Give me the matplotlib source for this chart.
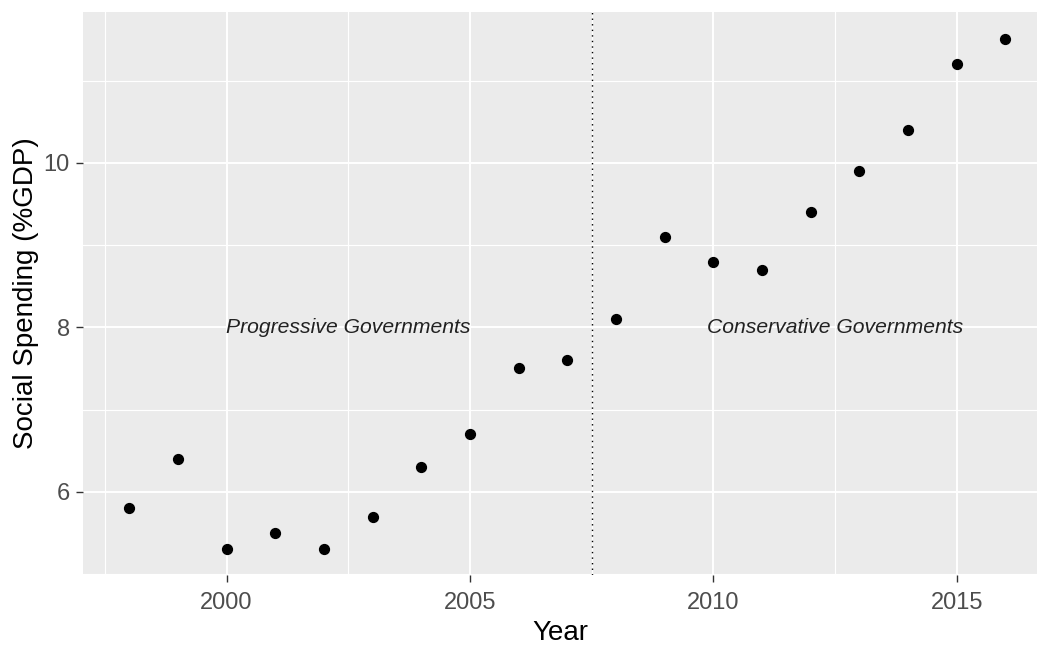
import matplotlib.pyplot as plt

plt.rcParams['font.family'] = ['Liberation Sans', 'DejaVu Sans']

# Social spending data
years = [1998, 1999, 2000, 2001, 2002, 2003, 2004, 2005, 2006, 2007,
         2008, 2009, 2010, 2011, 2012, 2013, 2014, 2015, 2016]
spending = [5.8, 6.4, 5.3, 5.5, 5.3, 5.7, 6.3, 6.7, 7.5, 7.6,
            8.1, 9.1, 8.8, 8.7, 9.4, 9.9, 10.4, 11.2, 11.5]

x_ticks = [2000, 2005, 2010, 2015]
x_minor = [1997.5, 2002.5, 2007.5, 2012.5]
y_ticks = [6, 8, 10]
y_minor = [5, 7, 9, 11]

break_year = 2007.5
labels = ['Progressive Governments', 'Conservative Governments']
label_x = [2002.5, 2012.5]
label_y = 8

fig = plt.figure(figsize=(10.37, 6.46), dpi=100)
ax = fig.add_axes([0.080, 0.110, 0.920, 0.871])
ax.set_facecolor('#EBEBEB')

# ggplot-like grid
for v in x_minor:
    ax.axvline(v, color='white', lw=0.8, zorder=0)
for v in y_minor:
    ax.axhline(v, color='white', lw=0.8, zorder=0)
for v in x_ticks:
    ax.axvline(v, color='white', lw=1.4, zorder=0)
for v in y_ticks:
    ax.axhline(v, color='white', lw=1.4, zorder=0)

ax.scatter(years, spending, s=50, color='black', zorder=3)
ax.axvline(break_year, color='black', lw=1.0, linestyle=(0, (1, 3)), zorder=2)

for txt, xx in zip(labels, label_x):
    ax.text(xx, label_y, txt, ha='center', va='center', style='italic',
            fontsize=15.2, color='#222222')

ax.set_xlim(1997.05, 2016.65)
ax.set_ylim(4.99, 11.83)
ax.set_xticks(x_ticks)
ax.set_yticks(y_ticks)
ax.tick_params(colors='#333333', labelcolor='#4D4D4D', labelsize=17,
               length=5, width=1, pad=4.5)
ax.tick_params(axis='x', pad=7.5)

for s in ax.spines.values():
    s.set_visible(False)

ax.set_xlabel('Year', fontsize=20, color='black', labelpad=4)
ax.set_ylabel('Social Spending (%GDP)', fontsize=20, color='black', labelpad=3)

fig.savefig('out.png', dpi=100)
